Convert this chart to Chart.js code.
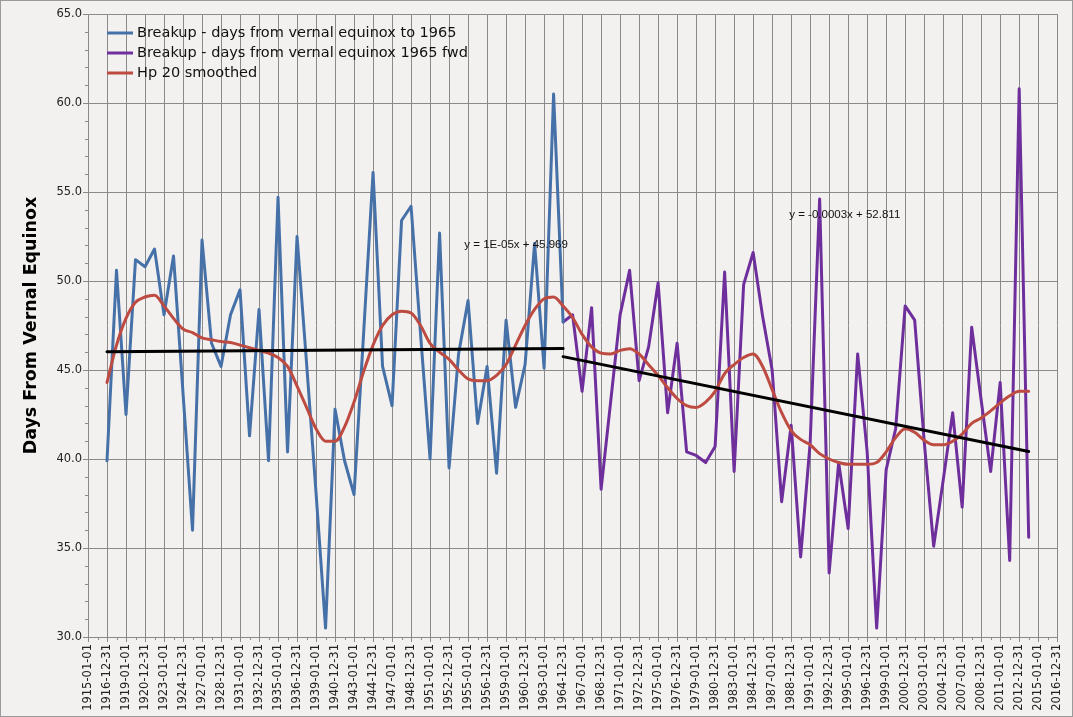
<!DOCTYPE html>
<html lang="en">
<head>
<meta charset="UTF-8" />
<title>Breakup - days from vernal equinox</title>
<script src="https://cdn.jsdelivr.net/npm/chart.js"></script>
<style>
  html, body { margin: 0; padding: 0; background: #f2f1ef; }
  #wrap { width: 1073px; height: 717px; position: relative; }
</style>
</head>
<body>
<div id="wrap"><canvas id="grafico" width="1073" height="717"></canvas></div>
<script>
  // anos (x) e valores
  const anosAzul = [1917, 1918, 1919, 1920, 1921, 1922, 1923, 1924, 1925, 1926,
    1927, 1928, 1929, 1930, 1931, 1932, 1933, 1934, 1935, 1936, 1937, 1938, 1939, 1940,
    1941, 1942, 1943, 1944, 1945, 1946, 1947, 1948, 1949, 1950, 1951, 1952, 1953, 1954,
    1955, 1956, 1957, 1958, 1959, 1960, 1961, 1962, 1963, 1964, 1965];
  const diasAzul = [39.9, 50.6, 42.5, 51.2, 50.8, 51.8, 48.1, 51.4, null, 36.0,
    52.3, 46.5, 45.2, 48.1, 49.5, 41.3, 48.4, 39.9, 54.7, 40.4, 52.5, 45.4, 38.1, 30.5,
    42.8, 39.9, 38.0, 47.0, 56.1, 45.2, 43.0, 53.4, 54.2, 47.0, 40.0, 52.7, 39.5, 45.9,
    48.9, 42.0, 45.2, 39.2, 47.8, 42.9, 45.3, 52.1, 45.1, 60.5, 47.7];

  const anosRoxo = [1965, 1966, 1967, 1968, 1969, 1970, 1971, 1972, 1973, 1974,
    1975, 1976, 1977, 1978, 1979, 1980, 1981, 1982, 1983, 1984, 1985, 1986, 1987, 1988,
    1989, 1990, 1991, 1992, 1993, 1994, 1995, 1996, 1997, 1998, 1999, 2000, 2001, 2002,
    2003, 2004, 2005, 2006, 2007, 2008, 2009, 2010, 2011, 2012, 2013, 2014];
  const diasRoxo = [47.7, 48.1, 43.8, 48.5, 38.3, 43.2, 48.1, 50.6, 44.4, 46.3,
    49.9, 42.6, 46.5, 40.4, 40.2, 39.8, 40.7, 50.5, 39.3, 49.8, 51.6, 48.0, 45.0, 37.6,
    41.9, 34.5, 40.9, 54.6, 33.6, 39.8, 36.1, 45.9, 40.4, 30.5, 39.4, 41.7, 48.6, 47.8,
    41.0, 35.1, 38.8, 42.6, 37.3, 47.4, 43.3, 39.3, 44.3, 34.3, 60.8, 35.6];

  const anosSuave = anosAzul.slice(0, 48).concat(anosRoxo);
  const hp20 = [44.3, 46.4, 47.9, 48.8, 49.1, 49.2, 48.6, 47.9, 47.3, 47.1,
    46.8, 46.7, 46.6, 46.55, 46.4, 46.25, 46.1, 45.95, 45.7, 45.2, 44.1, 42.9, 41.7, 41.0,
    41.0, 41.8, 43.2, 44.9, 46.4, 47.5, 48.1, 48.3, 48.2, 47.5, 46.5, 46.0, 45.6, 45.0,
    44.5, 44.4, 44.4, 44.7, 45.3, 46.4, 47.5, 48.4, 49.0, 49.1,
    48.6, 47.95, 47.0, 46.3, 45.95, 45.9, 46.1, 46.2, 45.9, 45.3,
    44.7, 44.0, 43.4, 43.0, 42.9, 43.2, 43.8, 44.8, 45.3, 45.7, 45.9, 45.2, 43.9, 42.6,
    41.6, 41.1, 40.8, 40.3, 40.0, 39.8, 39.7, 39.7, 39.7, 39.8, 40.4, 41.2, 41.7, 41.5,
    41.05, 40.8, 40.8, 41.0, 41.4, 42.0, 42.3, 42.7, 43.15, 43.55, 43.8, 43.8];

  // linhas de tendencia (pontos extremos)
  const tendencia1 = [{ x: 1917, y: 46.03 }, { x: 1965, y: 46.21 }];
  const tendencia2 = [{ x: 1965, y: 45.75 }, { x: 2014, y: 40.42 }];
  const textoTendencia = ["y = 1E-05x + 45.969", "y = -0.0003x + 52.811"];

  // rotulos do eixo x
  const anosTick = [1915, 1917, 1919, 1921, 1923, 1925, 1927, 1929, 1931, 1933, 1935,
    1937, 1939, 1941, 1943, 1945, 1947, 1949, 1951, 1953, 1955, 1957, 1959, 1961, 1963,
    1965, 1967, 1969, 1971, 1973, 1975, 1977, 1979, 1981, 1983, 1985, 1987, 1989, 1991,
    1993, 1995, 1997, 1999, 2001, 2003, 2005, 2007, 2009, 2011, 2013, 2015, 2017];
  const rotulosTick = ["1915-01-01", "1916-12-31", "1919-01-01", "1920-12-31", "1923-01-01",
    "1924-12-31", "1927-01-01", "1928-12-31", "1931-01-01", "1932-12-31", "1935-01-01",
    "1936-12-31", "1939-01-01", "1940-12-31", "1943-01-01", "1944-12-31", "1947-01-01",
    "1948-12-31", "1951-01-01", "1952-12-31", "1955-01-01", "1956-12-31", "1959-01-01",
    "1960-12-31", "1963-01-01", "1964-12-31", "1967-01-01", "1968-12-31", "1971-01-01",
    "1972-12-31", "1975-01-01", "1976-12-31", "1979-01-01", "1980-12-31", "1983-01-01",
    "1984-12-31", "1987-01-01", "1988-12-31", "1991-01-01", "1992-12-31", "1995-01-01",
    "1996-12-31", "1999-01-01", "2000-12-31", "2003-01-01", "2004-12-31", "2007-01-01",
    "2008-12-31", "2011-01-01", "2012-12-31", "2015-01-01", "2016-12-31"];

  const legendas = ["Breakup - days from vernal equinox to 1965",
    "Breakup - days from vernal equinox 1965 fwd", "Hp 20 smoothed"];

  function pontos(xs, ys) {
    return xs.map((x, i) => ({ x: x, y: ys[i] }));
  }

  const corGrade = '#8a8a8a';

  // legenda dentro da area do grafico + textos das tendencias + ticks menores
  const extras = {
    id: 'extras',
    afterDraw(chart) {
      const ctx = chart.ctx;
      const area = chart.chartArea;
      const sx = chart.scales.x;
      const sy = chart.scales.y;
      ctx.save();

      // ticks menores
      ctx.strokeStyle = corGrade;
      ctx.lineWidth = 1;
      ctx.beginPath();
      for (let a = 1916; a < 2017; a += 2) {
        const px = Math.round(sx.getPixelForValue(a)) + 0.5;
        ctx.moveTo(px, area.bottom);
        ctx.lineTo(px, area.bottom + 3);
      }
      for (let v = 31; v < 65; v++) {
        if (v % 5 === 0) continue;
        const py = Math.round(sy.getPixelForValue(v)) + 0.5;
        ctx.moveTo(area.left - 3, py);
        ctx.lineTo(area.left, py);
      }
      ctx.stroke();

      // legenda
      ctx.font = '14.5px "DejaVu Sans", sans-serif';
      ctx.textBaseline = 'middle';
      ctx.textAlign = 'left';
      for (let i = 0; i < legendas.length; i++) {
        const ds = chart.data.datasets[i];
        const y = area.top + 19 + i * 20;
        ctx.strokeStyle = ds.borderColor;
        ctx.lineWidth = 3;
        ctx.beginPath();
        ctx.moveTo(area.left + 19, y);
        ctx.lineTo(area.left + 45, y);
        ctx.stroke();
        ctx.fillStyle = '#111';
        ctx.fillText(legendas[i], area.left + 49, y);
      }

      // textos das tendencias
      ctx.font = '11.5px "Liberation Sans", Arial, sans-serif';
      ctx.fillStyle = '#111';
      ctx.fillText(textoTendencia[0], sx.getPixelForValue(1954.6), sy.getPixelForValue(52.05));
      ctx.fillText(textoTendencia[1], sx.getPixelForValue(1988.8), sy.getPixelForValue(53.7));

      // moldura
      ctx.strokeStyle = '#9a9a9a';
      ctx.lineWidth = 1;
      ctx.strokeRect(0.5, 0.5, chart.width - 1, chart.height - 1);
      ctx.restore();
    }
  };

  const config = {
    type: 'line',
    data: {
      datasets: [
        {
          label: legendas[0],
          data: pontos(anosAzul, diasAzul),
          borderColor: '#4671a8',
          borderWidth: 3,
          spanGaps: true,
          order: 3
        },
        {
          label: legendas[1],
          data: pontos(anosRoxo, diasRoxo),
          borderColor: '#6e2f9c',
          borderWidth: 3,
          order: 4
        },
        {
          label: legendas[2],
          data: pontos(anosSuave, hp20),
          borderColor: '#bd4b42',
          borderWidth: 3,
          cubicInterpolationMode: 'monotone',
          order: 2
        },
        {
          label: 'tendencia 1',
          data: tendencia1,
          borderColor: '#000',
          borderWidth: 3,
          order: 1
        },
        {
          label: 'tendencia 2',
          data: tendencia2,
          borderColor: '#000',
          borderWidth: 3,
          order: 1
        }
      ]
    },
    options: {
      responsive: false,
      animation: false,
      events: [],
      layout: { padding: { top: 14, right: 15, left: 0, bottom: 0 } },
      elements: {
        point: { radius: 0 },
        line: { borderJoinStyle: 'round', borderCapStyle: 'round', tension: 0 }
      },
      plugins: {
        legend: { display: false },
        tooltip: { enabled: false }
      },
      scales: {
        x: {
          type: 'linear',
          min: 1915,
          max: 2017,
          afterBuildTicks: (s) => { s.ticks = anosTick.map(v => ({ value: v })); },
          afterFit: (s) => { s.height = 80; },
          grid: { color: corGrade, lineWidth: 1, tickLength: 5 },
          border: { color: corGrade },
          ticks: {
            autoSkip: false,
            minRotation: 90,
            maxRotation: 90,
            padding: 2,
            color: '#222',
            font: { family: '"DejaVu Sans", sans-serif', size: 11.5 },
            callback: (v, i) => rotulosTick[i]
          }
        },
        y: {
          min: 30,
          max: 65,
          afterFit: (s) => { s.width = 88; },
          grid: { color: corGrade, lineWidth: 1, tickLength: 5 },
          border: { color: corGrade },
          ticks: {
            stepSize: 5,
            padding: 1,
            color: '#222',
            font: { family: '"DejaVu Sans", sans-serif', size: 11.5 },
            callback: (v) => Number(v).toFixed(1)
          },
          title: {
            display: true,
            text: 'Days From Vernal Equinox',
            color: '#000',
            padding: { top: 21, bottom: 0 },
            font: { family: '"DejaVu Sans", sans-serif', size: 17.5, weight: 'bold' }
          }
        }
      }
    },
    plugins: [extras]
  };

  const grafico = new Chart(document.getElementById('grafico'), config);
</script>
</body>
</html>
